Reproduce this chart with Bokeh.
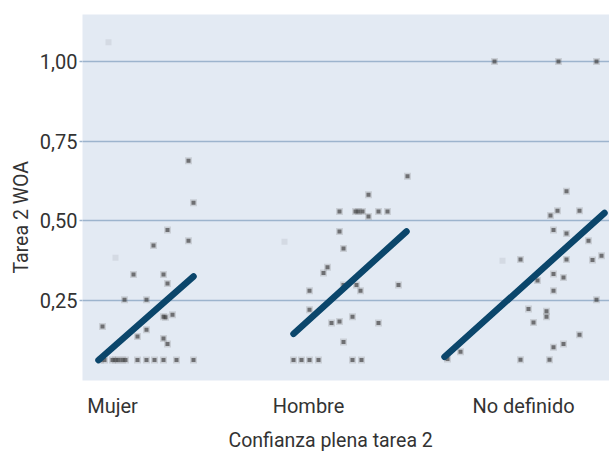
from bokeh.plotting import figure
from bokeh.models import Range1d, FixedTicker, ColumnDataSource, Title
from bokeh.embed import file_html
from bokeh.resources import INLINE

# ---- data ----
categories = ["Mujer", "Hombre", "No definido"]
category_pos = [112, 308, 523]

mujer_x = [188, 193, 167, 188, 153, 133, 163, 167, 124, 146, 165, 172, 163, 102, 146, 137, 163, 167,
           100, 104, 112, 115, 118, 122, 125, 137, 146, 154, 163, 176, 193]
mujer_y = [0.689, 0.557, 0.472, 0.438, 0.423, 0.332, 0.332, 0.304, 0.253, 0.253, 0.198, 0.206, 0.200,
           0.169, 0.159, 0.138, 0.132, 0.114,
           0.064, 0.064, 0.064, 0.064, 0.064, 0.064, 0.064, 0.064, 0.064, 0.064, 0.064, 0.064, 0.064]

hombre_x = [407, 368, 339, 355, 358, 362, 378, 387, 368, 339, 343, 327, 323, 343, 356, 360, 398, 309,
            309, 352, 331, 339, 378, 343, 293, 301, 309, 318, 352, 361]
hombre_y = [0.640, 0.582, 0.530, 0.530, 0.530, 0.530, 0.530, 0.530, 0.514, 0.467, 0.414, 0.355, 0.337,
            0.299, 0.299, 0.281, 0.299, 0.281, 0.222, 0.200, 0.180, 0.185, 0.180, 0.121,
            0.064, 0.064, 0.064, 0.064, 0.064, 0.064]

nodef_x = [494, 558, 596, 566, 550, 557, 579, 553, 566, 588, 520, 566, 592, 601, 553, 563, 537, 553,
           596, 528, 546, 546, 533, 579, 553, 563, 460, 447, 520, 549]
nodef_y = [1.0, 1.0, 1.0, 0.593, 0.517, 0.532, 0.532, 0.472, 0.461, 0.438, 0.379, 0.379, 0.378, 0.391,
           0.334, 0.323, 0.313, 0.281, 0.253, 0.224, 0.217, 0.200, 0.182, 0.143, 0.104, 0.114, 0.090,
           0.067, 0.065, 0.065]

faint_x = [108, 115, 284, 502]
faint_y = [1.06, 0.385, 0.435, 0.375]

trend_x0 = [98, 293, 444]
trend_y0 = [0.064, 0.146, 0.074]
trend_x1 = [193, 406, 604]
trend_y1 = [0.326, 0.467, 0.525]

y_ticks = [0.25, 0.50, 0.75, 1.00]
y_tick_labels = ["0,25", "0,50", "0,75", "1,00"]

x_title = "Confianza plena tarea 2"
y_title = "Tarea 2 WOA"

FONT = "Roboto"
TXT = "#333333"
GRID = "#9db4cd"

p = figure(width=609, height=458, output_backend="svg", toolbar_location=None,
           x_range=Range1d(82, 609), y_range=Range1d(0, 1.147),
           min_border_left=82, min_border_right=0, min_border_top=14, min_border_bottom=78)
p.background_fill_color = "#e3eaf3"
p.border_fill_color = "white"
p.outline_line_color = None

# grid
p.xgrid.grid_line_color = None
p.ygrid.ticker = FixedTicker(ticks=y_ticks)
p.ygrid.grid_line_color = GRID
p.ygrid.grid_line_width = 1.5

# axes
p.yaxis.ticker = FixedTicker(ticks=y_ticks)
p.yaxis.major_label_overrides = {t: l for t, l in zip(y_ticks, y_tick_labels)}
p.yaxis.axis_line_color = None
p.yaxis.major_tick_line_color = GRID
p.yaxis.major_tick_line_width = 1.5
p.yaxis.major_tick_out = 3
p.yaxis.major_tick_in = 0
p.yaxis.minor_tick_line_color = None
p.yaxis.major_label_standoff = 2
p.yaxis.major_label_text_font = FONT
p.yaxis.major_label_text_font_size = "20px"
p.yaxis.major_label_text_color = TXT

p.xaxis.ticker = FixedTicker(ticks=category_pos)
p.xaxis.major_label_overrides = {t: l for t, l in zip(category_pos, categories)}
p.xaxis.axis_line_color = None
p.xaxis.major_tick_line_color = None
p.xaxis.minor_tick_line_color = None
p.xaxis.major_label_standoff = 7
p.xaxis.major_label_text_font = FONT
p.xaxis.major_label_text_font_size = "20px"
p.xaxis.major_label_text_color = TXT

# axis titles, offset as in the reference
p.add_layout(Title(text=x_title, align="left", offset=146, standoff=12, text_font=FONT,
                   text_font_size="19.5px", text_font_style="normal", text_color=TXT), "below")
p.add_layout(Title(text=y_title, align="left", offset=107, standoff=8, text_font=FONT,
                   text_font_size="19.5px", text_font_style="normal", text_color=TXT), "left")

# faint ghost marks
p.scatter(faint_x, faint_y, marker="square", size=6, fill_color="#b8bec6", fill_alpha=0.35,
          line_color=None)

# points
for xs, ys in [(mujer_x, mujer_y), (hombre_x, hombre_y), (nodef_x, nodef_y)]:
    src = ColumnDataSource(dict(x=xs, y=ys))
    p.scatter("x", "y", source=src, marker="square", size=7, fill_color="#707070",
              fill_alpha=0.22, line_color=None)
    p.scatter("x", "y", source=src, marker="square", size=4, fill_color="#3c3c3c",
              fill_alpha=0.65, line_color=None)

# trend lines
p.segment(x0=trend_x0, y0=trend_y0, x1=trend_x1, y1=trend_y1, line_color="#0b466b",
          line_width=6.5, line_cap="round")

open("out.html", "w").write(file_html(p, INLINE))
